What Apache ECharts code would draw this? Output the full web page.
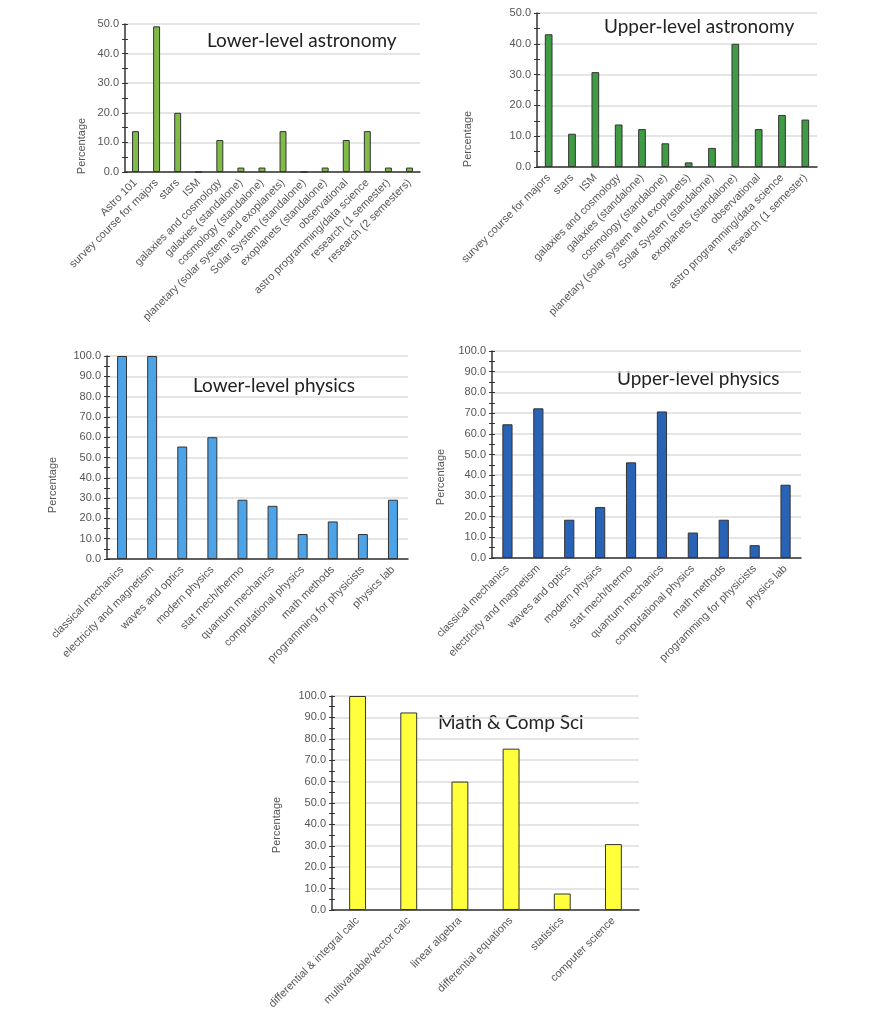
<!DOCTYPE html>
<html>
<head>
<meta charset="utf-8">
<title>Course survey</title>
<script src="https://cdn.jsdelivr.net/npm/echarts@6/dist/echarts.min.js"></script>
<style>
	html, body { margin: 0; padding: 0; background: #fff; }
	#main { width: 878px; height: 1024px; }
</style>
</head>
<body>
<div id="main"></div>
<script>
// categories and values (percent of respondents)
var lowerAstroCats = ['Astro 101', 'survey course for majors', 'stars', 'ISM', 'galaxies and cosmology',
	'galaxies (standalone)', 'cosmology (standalone)', 'planetary (solar system and exoplanets)',
	'Solar System (standalone)', 'exoplanets (standalone)', 'observational', 'astro programming/data science',
	'research (1 semester)', 'research (2 semesters)'];
var lowerAstroVals = [13.8, 49.2, 20.0, 0, 10.8, 1.5, 1.5, 13.8, 0, 1.5, 10.8, 13.8, 1.5, 1.5];

var upperAstroCats = ['survey course for majors', 'stars', 'ISM', 'galaxies and cosmology',
	'galaxies (standalone)', 'cosmology (standalone)', 'planetary (solar system and exoplanets)',
	'Solar System (standalone)', 'exoplanets (standalone)', 'observational', 'astro programming/data science',
	'research (1 semester)'];
var upperAstroVals = [43.1, 10.8, 30.8, 13.8, 12.3, 7.7, 1.5, 6.2, 40.0, 12.3, 16.9, 15.4];

var physCats = ['classical mechanics', 'electricity and magnetism', 'waves and optics', 'modern physics',
	'stat mech/thermo', 'quantum mechanics', 'computational physics', 'math methods',
	'programming for physicists', 'physics lab'];
var lowerPhysVals = [100, 100, 55.4, 60.0, 29.2, 26.2, 12.3, 18.5, 12.3, 29.2];
var upperPhysVals = [64.6, 72.3, 18.5, 24.6, 46.2, 70.8, 12.3, 18.5, 6.2, 35.4];

var mathCats = ['differential & integral calc', 'multivariable/vector calc', 'linear algebra',
	'differential equations', 'statistics', 'computer science'];
var mathVals = [100, 92.3, 60.0, 75.4, 7.7, 30.8];

var axisMax = [50, 50, 100, 100, 100];

// one panel per grid
var panels = [
	{ cats: lowerAstroCats, vals: lowerAstroVals, color: '#80bb47', title: 'Lower-level astronomy',
		grid: { left: 125, top: 24, width: 295, height: 148 }, tx: 207, ty: 43, px: 82, py: 146 },
	{ cats: upperAstroCats, vals: upperAstroVals, color: '#3f9b44', title: 'Upper-level astronomy',
		grid: { left: 537, top: 13, width: 280, height: 154 }, tx: 604, ty: 29, px: 468, py: 139 },
	{ cats: physCats, vals: lowerPhysVals, color: '#4ca3e8', title: 'Lower-level physics',
		grid: { left: 107, top: 356, width: 301, height: 203 }, tx: 193, ty: 388, px: 53, py: 485 },
	{ cats: physCats, vals: upperPhysVals, color: '#2863b5', title: 'Upper-level physics',
		grid: { left: 492, top: 351, width: 309, height: 207 }, tx: 617, ty: 381, px: 441, py: 477 },
	{ cats: mathCats, vals: mathVals, color: '#ffff3c', title: 'Math & Comp Sci',
		grid: { left: 332, top: 696, width: 307, height: 214 }, tx: 438, ty: 725, px: 277, py: 825 }
];

var labelFont = 'Liberation Sans, Arial, sans-serif';
var grids = [], xAxes = [], yAxes = [], series = [], graphics = [];

for (var i = 0; i < panels.length; i++) {
	var p = panels[i];
	grids.push(p.grid);

	xAxes.push({
		type: 'category',
		gridIndex: i,
		data: p.cats,
		axisLine: { lineStyle: { color: '#333', width: 1.5 } },
		axisTick: { show: false },
		axisLabel: { rotate: 45, interval: 0, fontSize: 11, color: '#555', fontFamily: labelFont, margin: 9 },
		splitLine: { show: false }
	});

	// main value axis: labels, gridlines, outer ticks
	yAxes.push({
		type: 'value',
		gridIndex: i,
		min: 0,
		max: axisMax[i],
		interval: 10,
		axisLine: { show: true, lineStyle: { color: '#333', width: 1.5 } },
		axisTick: { show: true, length: 3, lineStyle: { color: '#333' } },
		minorTick: { show: true, splitNumber: 2, length: 3, lineStyle: { color: '#333' } },
		axisLabel: {
			fontSize: 11, color: '#555', fontFamily: labelFont, margin: 6,
			formatter: function(v) { return v.toFixed(1); }
		},
		splitLine: { show: true, lineStyle: { color: '#dcdcdc', width: 1.5 } }
	});
	// overlay axis so the ticks cross the axis line
	yAxes.push({
		type: 'value',
		gridIndex: i,
		position: 'left',
		min: 0,
		max: axisMax[i],
		interval: 10,
		axisLine: { show: false },
		axisTick: { show: true, inside: true, length: 3, lineStyle: { color: '#333' } },
		minorTick: { show: true, splitNumber: 2, length: 3, lineStyle: { color: '#333' } },
		axisLabel: { show: false },
		splitLine: { show: false }
	});

	series.push({
		type: 'bar',
		xAxisIndex: i,
		yAxisIndex: i * 2,
		data: p.vals,
		barWidth: '33%',
		itemStyle: { color: p.color, borderColor: '#333', borderWidth: 1 },
		emphasis: { disabled: true }
	});

	graphics.push({
		type: 'text',
		left: p.tx,
		top: p.ty - 12,
		style: { text: p.title, fontSize: 19, fontFamily: 'Lato, sans-serif', fill: '#222' }
	});
	graphics.push({
		type: 'text',
		x: p.px,
		y: p.py,
		rotation: Math.PI / 2,
		style: { text: 'Percentage', fontSize: 11, fontFamily: labelFont, fill: '#555',
			textAlign: 'center', textVerticalAlign: 'middle' }
	});
}

var myChart = echarts.init(document.getElementById('main'));
myChart.setOption({
	animation: false,
	grid: grids,
	xAxis: xAxes,
	yAxis: yAxes,
	series: series,
	graphic: graphics
});
</script>
</body>
</html>
